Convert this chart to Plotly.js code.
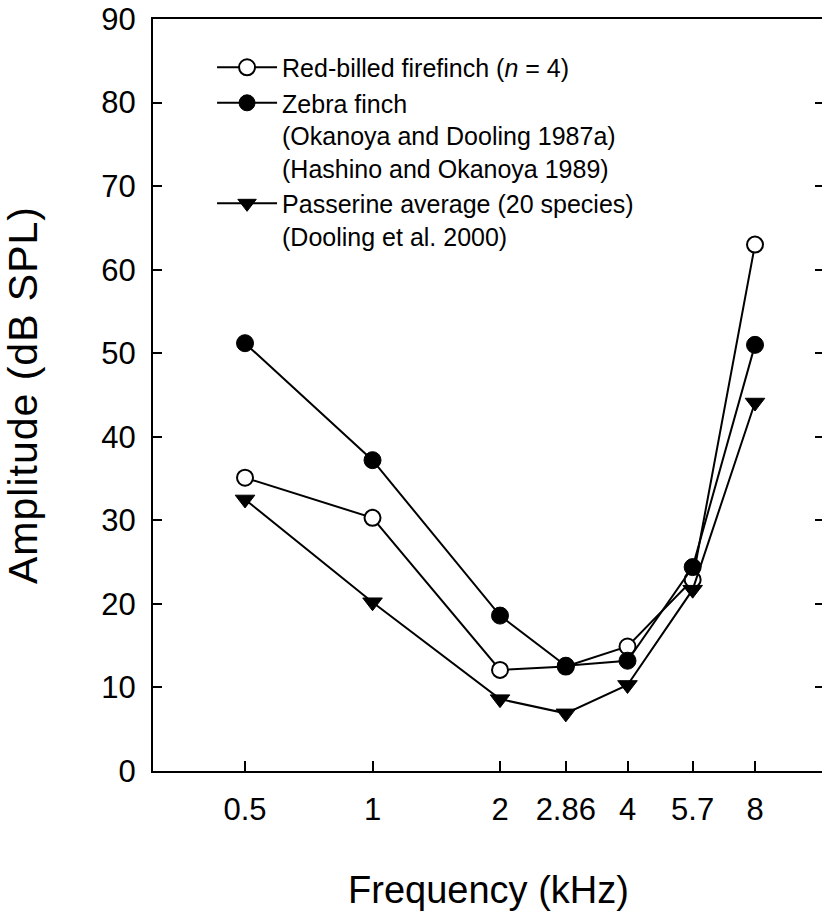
<!DOCTYPE html>
<html>
<head>
<meta charset="utf-8">
<script src="https://cdn.plot.ly/plotly-3.0.1.min.js"></script>
<style>
html, body { margin: 0; padding: 0; background: #fff; overflow: hidden; }
#chart { width: 826px; height: 912px; }
#chart .ytitle { letter-spacing: 1px; }
</style>
</head>
<body>
<div id="chart"></div>
<script>
const frequencies = [0.5, 1, 2, 2.86, 4, 5.7, 8];
const tickLabels = ['0.5', '1', '2', '2.86', '4', '5.7', '8'];
const redBilled = [35.1, 30.3, 12.1, 12.5, 14.9, 22.9, 63.0];
const zebraFinch = [51.2, 37.2, 18.6, 12.6, 13.2, 24.4, 51.0];
const passerine = [32.5, 20.2, 8.6, 6.9, 10.3, 21.7, 44.1];
const seriesNames = [
  'Red-billed firefinch (<i>n</i> = 4)',
  'Zebra finch<br>(Okanoya and Dooling 1987a)<br>(Hashino and Okanoya 1989)',
  'Passerine average (20 species)<br>(Dooling et al. 2000)'
];

const FONT = 'Liberation Sans, Arial, Helvetica, sans-serif';
const lineStyle = { color: '#000', width: 2 };

const traces = [
  {
    x: frequencies, y: redBilled, name: seriesNames[0],
    mode: 'lines+markers', line: lineStyle,
    marker: { symbol: 'circle', size: 16, color: '#fff', line: { color: '#000', width: 2 } }
  },
  {
    x: frequencies, y: zebraFinch, name: seriesNames[1],
    mode: 'lines+markers', line: lineStyle,
    marker: { symbol: 'circle', size: 17, color: '#000', line: { color: '#000', width: 1 } }
  },
  {
    x: frequencies, y: passerine, name: seriesNames[2],
    mode: 'lines+markers', line: lineStyle,
    marker: { symbol: 'triangle-down', size: 17, color: '#000', line: { color: '#000', width: 1 } }
  }
];

const layout = {
  width: 826, height: 912,
  margin: { l: 153, r: 2, t: 19, b: 141 },
  paper_bgcolor: '#fff', plot_bgcolor: '#fff',
  font: { family: FONT, color: '#000' },
  showlegend: true,
  legend: {
    x: 0.088, y: 0.966, xanchor: 'left', yanchor: 'top',
    font: { family: FONT, size: 25, color: '#000' },
    bgcolor: 'rgba(0,0,0,0)', borderwidth: 0,
    valign: 'top', itemwidth: 60, tracegroupgap: 0,
    traceorder: 'normal'
  },
  xaxis: {
    type: 'log',
    range: [-0.5183, 1.066],
    tickmode: 'array', tickvals: frequencies, ticktext: tickLabels,
    ticks: 'inside', ticklen: 10, tickwidth: 2, tickcolor: '#000',
    showline: true, linecolor: '#000', linewidth: 2, mirror: true,
    showgrid: false, zeroline: false,
    tickfont: { family: FONT, size: 31, color: '#000' },
    ticklabelstandoff: 10,
    title: { text: 'Frequency (kHz)', font: { family: FONT, size: 38, color: '#000' }, standoff: 50 },
    automargin: false
  },
  yaxis: {
    range: [0, 90],
    tickvals: [0, 10, 20, 30, 40, 50, 60, 70, 80, 90],
    ticks: 'inside', ticklen: 9, tickwidth: 2, tickcolor: '#000',
    showline: true, linecolor: '#000', linewidth: 2, mirror: 'ticks',
    showgrid: false, zeroline: false,
    tickfont: { family: FONT, size: 31, color: '#000' },
    ticklabelstandoff: 9,
    title: { text: 'Amplitude (dB SPL)', font: { family: FONT, size: 41, color: '#000' }, standoff: 56 },
    automargin: false
  }
};

Plotly.newPlot('chart', traces, layout, { displayModeBar: false, staticPlot: true });
</script>
</body>
</html>
